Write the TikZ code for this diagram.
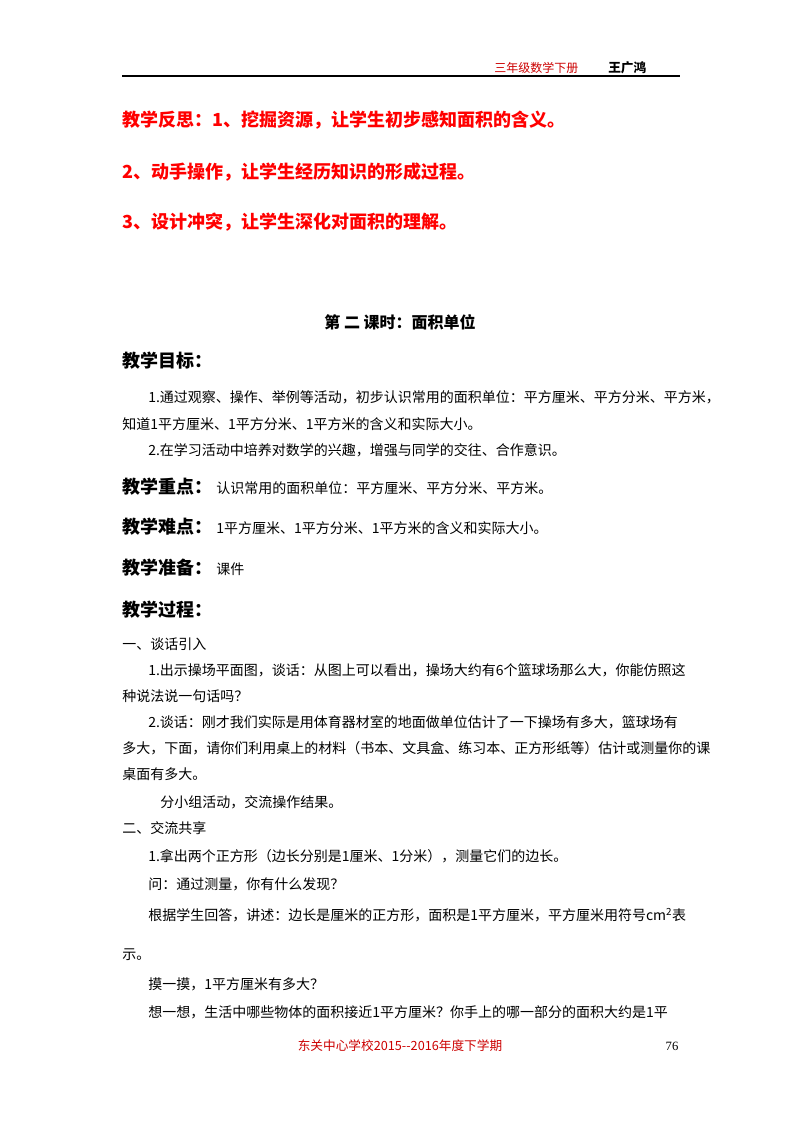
\documentclass[tikz,border=0pt]{standalone}
\usepackage{fontspec}
\setmainfont{Liberation Serif}
\newfontfamily\cjk{Noto Sans CJK SC}
\begin{document}
\begin{tikzpicture}[x=0.75pt,y=-0.75pt,
  body/.style={anchor=west,inner sep=0,font=\cjk\fontsize{10.5}{12}\selectfont},
  head/.style={anchor=west,inner sep=0,font=\cjk\bfseries\fontsize{13.5}{15}\selectfont},
  red/.style={anchor=west,inner sep=0,text=red,font=\cjk\bfseries\fontsize{13.5}{15}\selectfont}]
\useasboundingbox[fill=white] (0,0) rectangle (800,1132);
\node[anchor=west,inner sep=0,text=red!80!black,font=\cjk\fontsize{9}{10}\selectfont] (h1) at (494,68) {三年级数学下册};
\node[anchor=west,inner sep=0,font=\cjk\bfseries\fontsize{9.5}{10}\selectfont] (h2) at (608,68) {王广鸿};
\draw[line width=0.8pt] (122,76) -- (680,76);
\node[red] (r1) at (122,120) {教学反思：1、挖掘资源，让学生初步感知面积的含义。};
\node[red] (r2) at (122,172) {2、动手操作，让学生经历知识的形成过程。};
\node[red] (r3) at (122,222) {3、设计冲突，让学生深化对面积的理解。};
\node[inner sep=0,font=\cjk\bfseries\fontsize{12}{14}\selectfont] (t) at (400,322) {第\ 二\ 课时：面积单位};
\node[head] (g) at (122,361) {教学目标：};
\node[body] (g1) at (148,397) {1.通过观察、操作、举例等活动，初步认识常用的面积单位：平方厘米、平方分米、平方米，};
\node[body] (g2) at (122,424) {知道1平方厘米、1平方分米、1平方米的含义和实际大小。};
\node[body] (g3) at (148,450) {2.在学习活动中培养对数学的兴趣，增强与同学的交往、合作意识。};
\node[head] (z) at (122,487) {教学重点：};
\node[body] (z1) at (216,488) {认识常用的面积单位：平方厘米、平方分米、平方米。};
\node[head] (n) at (122,527) {教学难点：};
\node[body] (n1) at (216,528) {1平方厘米、1平方分米、1平方米的含义和实际大小。};
\node[head] (p) at (122,568) {教学准备：};
\node[body] (p1) at (216,569) {课件};
\node[head] (c) at (122,610) {教学过程：};
\node[body] (a0) at (122,644) {一、谈话引入};
\node[body] (a1) at (148,670) {1.出示操场平面图，谈话：从图上可以看出，操场大约有6个篮球场那么大，你能仿照这};
\node[body] (a2) at (122,696) {种说法说一句话吗？};
\node[body] (a3) at (148,722) {2.谈话：刚才我们实际是用体育器材室的地面做单位估计了一下操场有多大，篮球场有};
\node[body] (a4) at (122,748) {多大，下面，请你们利用桌上的材料（书本、文具盒、练习本、正方形纸等）估计或测量你的课};
\node[body] (a5) at (122,774) {桌面有多大。};
\node[body] (a6) at (160,802) {分小组活动，交流操作结果。};
\node[body] (b0) at (122,828) {二、交流共享};
\node[body] (b1) at (148,856) {1.拿出两个正方形（边长分别是1厘米、1分米），测量它们的边长。};
\node[body] (b2) at (148,884) {问：通过测量，你有什么发现？};
\node[body] (b3) at (148,915) {根据学生回答，讲述：边长是厘米的正方形，面积是1平方厘米，平方厘米用符号cm\textsuperscript{2}表};
\node[body] (b4) at (122,955) {示。};
\node[body] (b5) at (148,984) {摸一摸，1平方厘米有多大？};
\node[body] (b6) at (148,1012) {想一想，生活中哪些物体的面积接近1平方厘米？你手上的哪一部分的面积大约是1平};
\node[inner sep=0,text=red!80!black,font=\cjk\fontsize{9.5}{11}\selectfont] (f1) at (400,1046) {东关中心学校2015--2016年度下学期};
\node[inner sep=0,font=\fontsize{9.5}{11}\selectfont] (f2) at (672,1046) {76};
\end{tikzpicture}
\end{document}
